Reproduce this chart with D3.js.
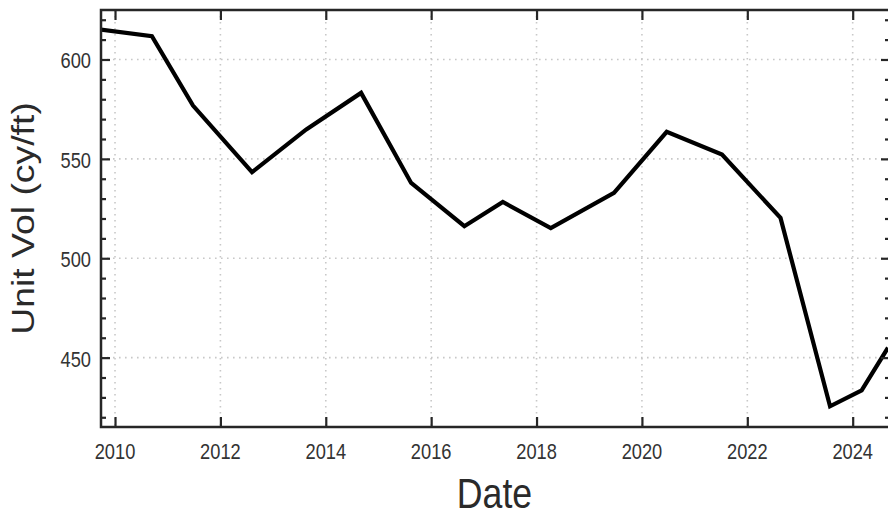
<!DOCTYPE html>
<html>
<head>
<meta charset="utf-8">
<script src="https://cdn.jsdelivr.net/npm/d3@7"></script>
<style>
  html, body { margin: 0; padding: 0; background: #fff; }
  svg { display: block; }
  text { font-family: "Liberation Sans", Arial, sans-serif; }
</style>
</head>
<body>
<svg id="chart" width="888" height="516"></svg>
<script>
// ---- data (decimal years, unit volume cy/ft) ----
const dates = [2009.73, 2010.70, 2011.48, 2012.60, 2013.63, 2014.67, 2015.62, 2016.63, 2017.36, 2018.27, 2019.47, 2020.47, 2021.52, 2022.63, 2023.57, 2024.17, 2024.67];
const unitVol = [615.1, 611.7, 576.8, 543.3, 564.8, 583.2, 537.9, 516.1, 528.3, 515.2, 532.9, 563.6, 552.2, 520.3, 425.5, 433.5, 455];
const xTicks = [2010, 2012, 2014, 2016, 2018, 2020, 2022, 2024];
const yTicks = [450, 500, 550, 600];
const yMinorTicks = [420, 430, 440, 460, 470, 480, 490, 510, 520, 530, 540, 560, 570, 580, 590, 610, 620];
const xLabel = "Date";
const yLabel = "Unit Vol (cy/ft)";

(function () {
const svg = d3.select("#chart");
const pL = 101, pR = 890, pT = 10, pB = 427;
const sx = 0.83; // horizontal text compression

const x = d3.scaleLinear().domain([2009.734, 2024.708]).range([pL, pR]);
const y = d3.scaleLinear().domain([415.1, 624.9]).range([pB, pT]);

// grid
const grid = svg.append("g").attr("stroke", "#c8c8c8").attr("stroke-width", 1.6).attr("stroke-dasharray", "1.6,4.4");
grid.selectAll("line.v").data(xTicks).join("line").attr("class", "v")
  .attr("x1", d => x(d)).attr("x2", d => x(d)).attr("y1", pT).attr("y2", pB);
grid.selectAll("line.h").data(yTicks).join("line").attr("class", "h")
  .attr("y1", d => y(d)).attr("y2", d => y(d)).attr("x1", pL).attr("x2", pR);

// line
svg.append("clipPath").attr("id", "clip").append("rect")
  .attr("x", pL).attr("y", pT).attr("width", pR - pL).attr("height", pB - pT);
const pts = dates.map((d, i) => [d, unitVol[i]]);
svg.append("path").datum(pts)
  .attr("clip-path", "url(#clip)")
  .attr("fill", "none").attr("stroke", "#000").attr("stroke-width", 4.2)
  .attr("stroke-linejoin", "miter")
  .attr("d", d3.line().x(d => x(d[0])).y(d => y(d[1])));

// axes via d3 axis generators (ticks inward)
const axCol = "#262626";
function styleAxis(g) {
  g.select(".domain").remove();
  g.selectAll(".tick line").attr("stroke", axCol).attr("stroke-width", 2.2);
  g.selectAll(".tick text").remove();
}
svg.append("g").attr("transform", `translate(0,${pB})`)
  .call(d3.axisBottom(x).tickValues(xTicks).tickSizeInner(-10).tickSizeOuter(0)).call(styleAxis);
svg.append("g").attr("transform", `translate(0,${pT})`)
  .call(d3.axisTop(x).tickValues(xTicks).tickSizeInner(-10).tickSizeOuter(0)).call(styleAxis);
svg.append("g").attr("transform", `translate(${pL},0)`)
  .call(d3.axisLeft(y).tickValues(yTicks).tickSizeInner(-9).tickSizeOuter(0)).call(styleAxis);
svg.append("g").attr("transform", `translate(${pL},0)`)
  .call(d3.axisLeft(y).tickValues(yMinorTicks).tickSizeInner(-5).tickSizeOuter(0)).call(styleAxis);
svg.append("g").attr("transform", `translate(${pR},0)`)
  .call(d3.axisRight(y).tickValues(yTicks).tickSizeInner(-9).tickSizeOuter(0)).call(styleAxis);
svg.append("g").attr("transform", `translate(${pR},0)`)
  .call(d3.axisRight(y).tickValues(yMinorTicks).tickSizeInner(-5).tickSizeOuter(0)).call(styleAxis);

// frame
svg.append("rect").attr("x", pL).attr("y", pT).attr("width", pR - pL).attr("height", pB - pT)
  .attr("fill", "none").attr("stroke", axCol).attr("stroke-width", 2.5);

// tick labels
svg.append("g").selectAll("text").data(xTicks).join("text")
  .attr("transform", d => `translate(${x(d)},458.5) scale(${sx},1)`)
  .attr("text-anchor", "middle").attr("font-size", 22).attr("fill", "#333")
  .text(d => d);
svg.append("g").selectAll("text").data(yTicks).join("text")
  .attr("transform", d => `translate(91,${y(d) + 9}) scale(${sx},1)`)
  .attr("text-anchor", "end").attr("font-size", 22).attr("fill", "#333")
  .text(d => d);

// axis titles
svg.append("text")
  .attr("transform", `translate(${(pL + 888) / 2},507.5) scale(${sx},1)`)
  .attr("text-anchor", "middle").attr("font-size", 43).attr("fill", "#2a2a2a")
  .text(xLabel);
svg.append("text")
  .attr("transform", `translate(33.5,${(pT + pB) / 2}) scale(${sx},1) rotate(-90)`)
  .attr("text-anchor", "middle").attr("font-size", 37.4).attr("fill", "#2a2a2a")
  .text(yLabel);
})();
</script>
</body>
</html>
